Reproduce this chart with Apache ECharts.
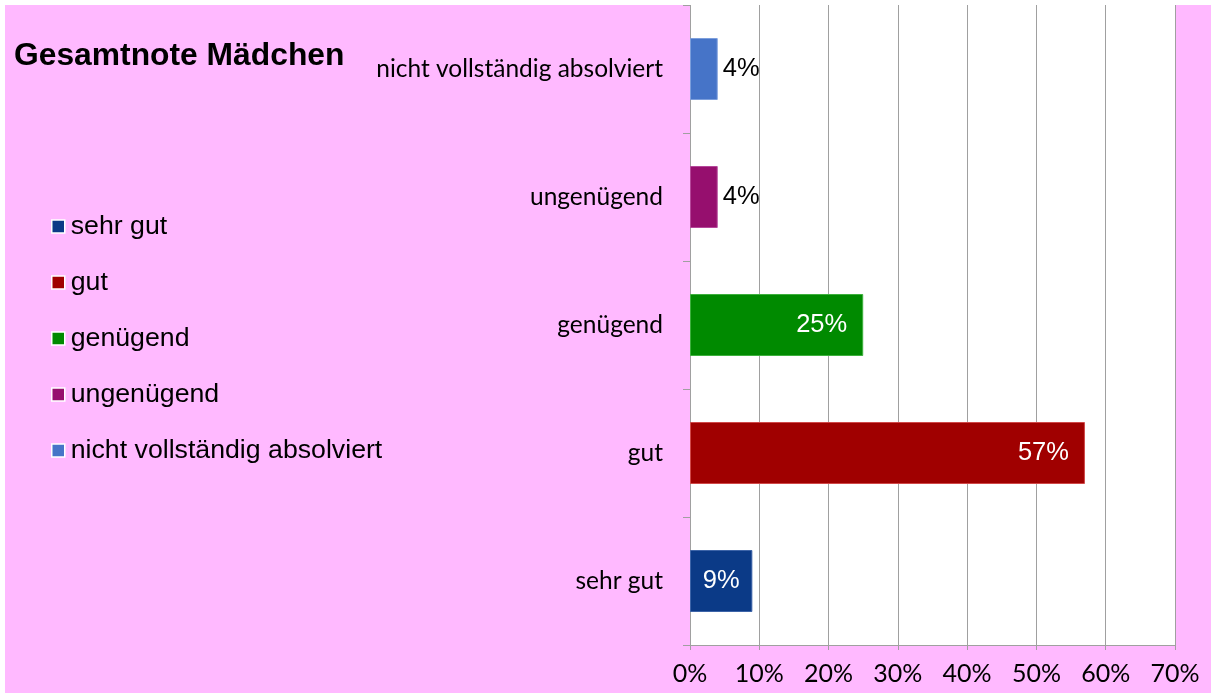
<!DOCTYPE html>
<html>
<head>
<meta charset="utf-8">
<script src="https://cdn.jsdelivr.net/npm/echarts@6/dist/echarts.min.js"></script>
<style>
  html, body { margin: 0; padding: 0; background: #ffffff; }
  #chart { position: absolute; left: 5px; top: 5px; width: 1206px; height: 688px; }
</style>
</head>
<body>
<div id="chart"></div>
<script>
// Grade categories, bottom to top on the vertical axis
const categories = ['sehr gut', 'gut', 'genügend', 'ungenügend', 'nicht vollständig absolviert'];
// Share of girls per overall grade, in percent
const shares = [9, 57, 25, 4, 4];
// Bar fill per grade
const colors = ['#0B3A87', '#A00000', '#008A00', '#960F6E', '#4674C8'];
const borders = ['#3D64A8', '#D04848', '#3DB03D', '#B5479A', '#7C9EDC'];
// Value axis range in percent
const axisMin = 0, axisMax = 70, axisStep = 10;

const catFont = 'Lato, "Open Sans", sans-serif';
const sansFont = '"Liberation Sans", Arial, sans-serif';

const series = categories.map((name, i) => {
  const data = categories.map((_, j) => (j === i ? shares[i] : '-'));
  const small = shares[i] < 6;
  const mid = shares[i] < 15;
  return {
    name: name,
    type: 'bar',
    stack: 'grades',
    barWidth: 62,
    data: data,
    itemStyle: { color: colors[i], borderColor: borders[i], borderWidth: 1 },
    label: {
      show: true,
      position: small ? 'right' : (mid ? 'inside' : 'insideRight'),
      distance: small ? 5 : 16,
      color: small ? '#000000' : '#ffffff',
      fontFamily: sansFont,
      fontSize: 25.5,
      formatter: p => Math.round(p.value) + '%'
    }
  };
});

const chart = echarts.init(document.getElementById('chart'), null, { renderer: 'canvas' });
chart.setOption({
  animation: false,
  backgroundColor: '#FFB9FF',
  title: {
    text: 'Gesamtnote Mädchen',
    left: 4,
    top: 30,
    textStyle: { fontFamily: sansFont, fontWeight: 'bold', fontSize: 31.8, color: '#000' }
  },
  legend: {
    orient: 'vertical',
    left: 41,
    top: 203,
    itemWidth: 13,
    itemHeight: 13,
    itemGap: 29,
    icon: 'rect',
    data: categories,
    itemStyle: { borderColor: '#ffffff', borderWidth: 1.5 },
    textStyle: { fontFamily: sansFont, fontSize: 26.7, color: '#000', lineHeight: 26.5, padding: [0, 0, 0, 1] }
  },
  grid: {
    left: 685,
    top: 0,
    right: 36,
    bottom: 48,
    show: true,
    backgroundColor: '#ffffff',
    borderWidth: 0,
    containLabel: false
  },
  xAxis: {
    type: 'value',
    min: axisMin,
    max: axisMax,
    interval: axisStep,
    axisLine: { show: true, lineStyle: { color: '#A0A0A0', width: 1 } },
    axisTick: { show: true, length: 5, lineStyle: { color: '#A0A0A0' } },
    splitLine: { show: true, lineStyle: { color: '#A0A0A0', width: 1 } },
    axisLabel: { formatter: '{value}%', margin: 16, fontFamily: catFont, fontSize: 25, color: '#000' }
  },
  yAxis: {
    type: 'category',
    data: categories,
    axisLine: { show: true, lineStyle: { color: '#A0A0A0', width: 1 } },
    axisTick: { show: true, length: 7, lineStyle: { color: '#A0A0A0' } },
    axisLabel: { margin: 27, fontFamily: catFont, fontSize: 24.5, color: '#000' }
  },
  series: series
});
</script>
</body>
</html>
